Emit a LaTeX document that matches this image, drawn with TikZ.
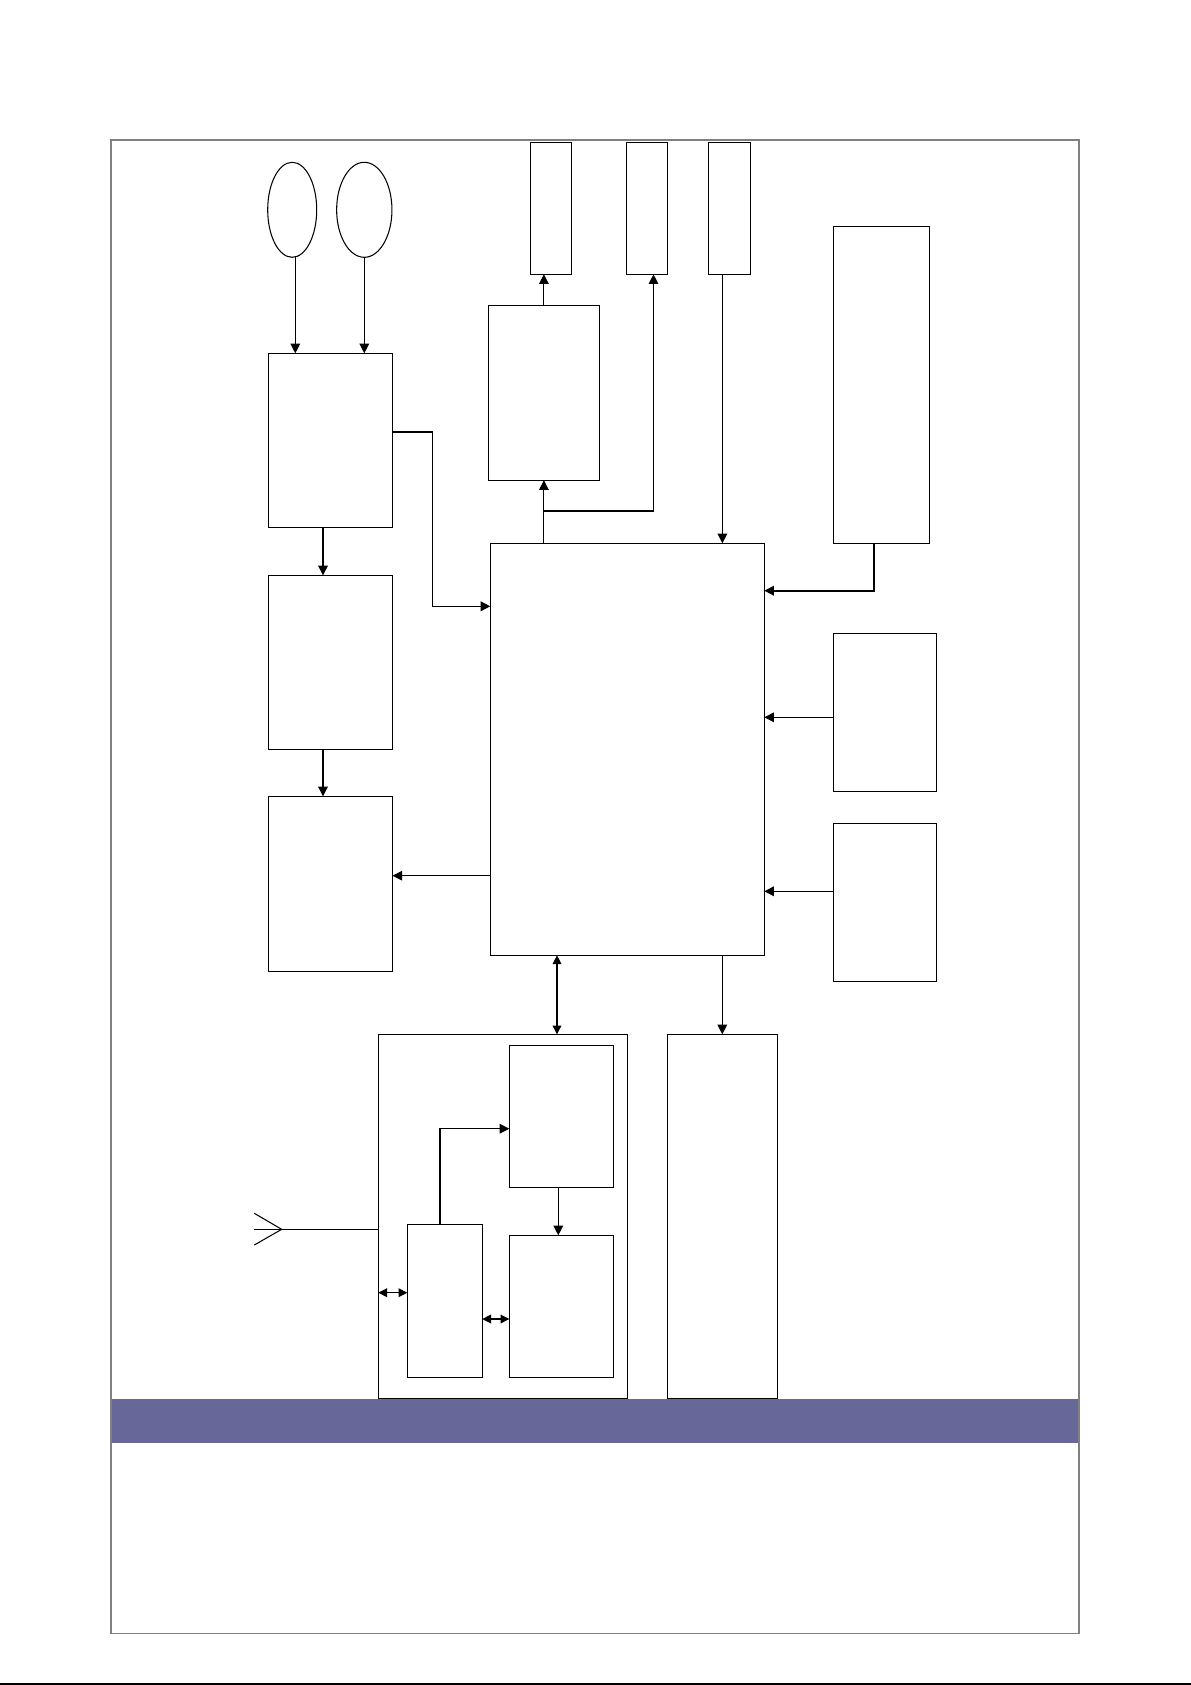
\documentclass[tikz,border=0pt]{standalone}
\usetikzlibrary{arrows.meta,shapes.geometric}
\definecolor{bandblue}{RGB}{103,104,153}

\begin{document}
\begin{tikzpicture}[x=0.02cm,y=-0.02cm,
    blk/.style 2 args={draw, rectangle, line width=0.6pt, inner sep=0pt, outer sep=0pt,
      minimum width=#1*0.02cm, minimum height=#2*0.02cm},
    oval/.style 2 args={draw, ellipse, line width=0.6pt, inner sep=0pt, outer sep=0pt,
      minimum width=#1*0.02cm, minimum height=#2*0.02cm},
    arr/.style={line width=0.6pt, -{Triangle[length=5.5pt,width=5.5pt]}},
    dbl/.style={line width=0.6pt, {Triangle[length=5pt,width=5pt]}-{Triangle[length=5pt,width=5pt]}}]
  \useasboundingbox (0,0) rectangle (1191,1685);
  \fill [bandblue] (110.9,1399) rectangle (1078.9,1442.7);
  \draw [gray, line width=0.9pt] (110.9,140) rectangle (1078.9,1633.3);
  \draw [black, line width=0.6pt] (0,1684) -- (1191,1684);

  \node [oval={49}{95}]      (mic1) at (292.2,209.8) {};
  \node [oval={55.3}{95}]    (mic2) at (364.3,209.8) {};
  \node [blk={124.2}{174}]   (a)    at (330.4,440.3) {};
  \node [blk={124.2}{174}]   (c)    at (330.4,662.3) {};
  \node [blk={124.2}{175}]   (d)    at (330.4,883.8) {};
  \node [blk={274}{412}]     (m)    at (627.3,749.3) {};
  \node [blk={111.2}{175}]   (b)    at (543.9,392.8) {};
  \node [blk={41.4}{132}]    (t1)   at (550.9,208.3) {};
  \node [blk={40.9}{132}]    (t2)   at (646.8,208.3) {};
  \node [blk={42.1}{132}]    (t3)   at (729.7,208.3) {};
  \node [blk={96.1}{317}]    (r1)   at (881.4,384.8) {};
  \node [blk={103}{158}]     (r2)   at (884.8,712.3) {};
  \node [blk={103}{158}]     (r3)   at (884.8,902.3) {};
  \node [blk={249}{364}]     (g)    at (502.8,1216.3) {};
  \node [blk={104}{142}]     (g1)   at (561.3,1116.3) {};
  \node [blk={104}{142}]     (g2)   at (561.3,1306.3) {};
  \node [blk={75}{153}]      (g3)   at (444.8,1300.8) {};
  \node [blk={110}{364}]     (rt)   at (722.3,1216.3) {};
  \coordinate (ant) at (281.7,1229.3);

  \draw [arr] (mic1.south -| 295.3,0) -- (a.north -| 295.3,0);
  \draw [arr] (mic2.south) -- (mic2.south |- a.north);
  \draw [arr] (a.south -| 323,0) -- (c.north -| 323,0);
  \draw [arr] (c.south -| 323,0) -- (d.north -| 323,0);
  \draw [arr, line width=0.9pt] (a.east |- 0,431.7) -| (432.7,606.3) -- (m.west |- 0,606.3);
  \draw [arr] (m.west |- 0,875.7) -- (d.east |- 0,875.7);
  \draw [arr] (m.north -| b.south) -- (b.south);
  \draw [arr] (b.north) -- (b.north |- t1.south);
  \draw [arr] (543.9,511) -| (t2.south -| 653.5,0);
  \draw [arr] (t3.south -| 722.4,0) -- (m.north -| 722.4,0);
  \draw [arr, line width=0.9pt] (r1.south -| 874,0) |- (m.east |- 0,590.7);
  \draw [arr] (r2.west |- 0,717.3) -- (m.east |- 0,717.3);
  \draw [arr] (r3.west |- 0,891.3) -- (m.east |- 0,891.3);
  \draw [dbl] (m.south -| 557,0) -- (g.north -| 557,0);
  \draw [arr] (m.south -| rt.north) -- (rt.north);

  \draw [arr] (g1.south -| 558.3,0) -- (g2.north -| 558.3,0);
  \draw [arr] (g3.north -| 440,0) |- (g1.west |- 0,1128.7);
  \draw [dbl] (g.west |- 0,1292.7) -- (g3.west |- 0,1292.7);
  \draw [dbl] (g3.east |- 0,1319) -- (g2.west |- 0,1319);

  \draw [line width=0.6pt] (g.west |- ant) -- (ant) -- ++(-27.4,0);
  \draw [line width=0.6pt] (254.3,1213.3) -- (ant) -- (254.3,1245);
\end{tikzpicture}
\end{document}
